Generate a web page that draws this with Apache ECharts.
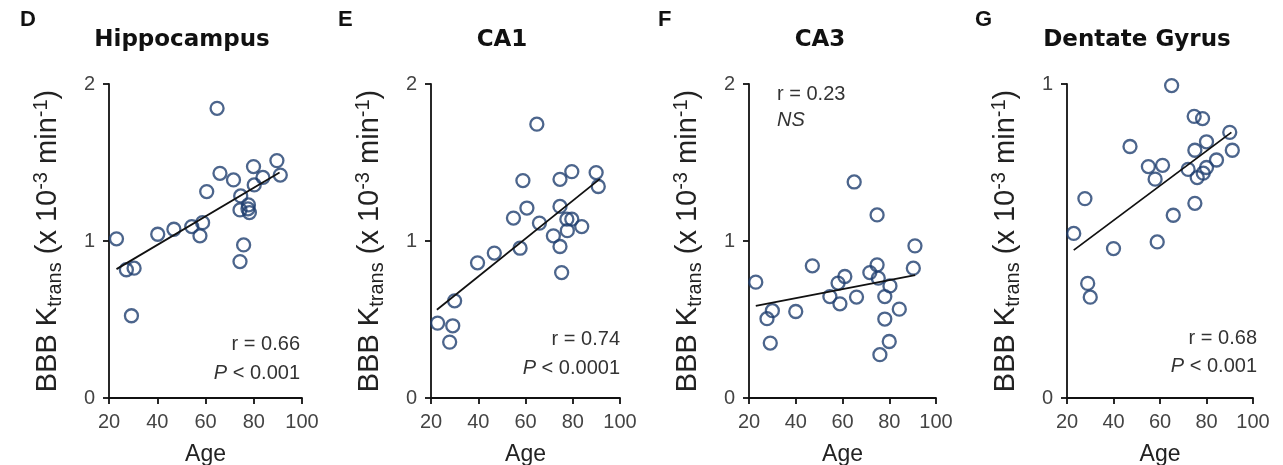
<!DOCTYPE html>
<html>
<head>
<meta charset="utf-8">
<script src="https://cdn.jsdelivr.net/npm/echarts@6/dist/echarts.min.js"></script>
<style>
html,body{margin:0;padding:0;background:#fff;}
#c{width:1283px;height:465px;}
</style>
</head>
<body>
<div id="c"></div>
<script>
// ---- data ----
const panelLetters = ['D', 'E', 'F', 'G'];
const panelTitles = ['Hippocampus', 'CA1', 'CA3', 'Dentate Gyrus'];
const xTicks = [20, 40, 60, 80, 100];
const yMaxes = [2, 2, 2, 1];
const rTexts = ['r = 0.66', 'r = 0.74', 'r = 0.23', 'r = 0.68'];
const pTexts = ['P < 0.001', 'P < 0.0001', 'NS', 'P < 0.001'];

const hippoAge = [23.1, 27.2, 30.4, 29.3, 40.2, 46.9, 54.3, 57.7, 58.8, 60.5, 64.8, 66.0, 71.6, 74.6, 74.3, 74.3, 75.8, 77.8, 78.2, 77.6, 79.9, 80.2, 83.8, 89.6, 91.0];
const hippoK   = [1.014, 0.817, 0.827, 0.524, 1.043, 1.075, 1.092, 1.033, 1.117, 1.315, 1.845, 1.431, 1.389, 1.287, 1.198, 0.869, 0.975, 1.230, 1.181, 1.205, 1.474, 1.357, 1.405, 1.512, 1.420];
const hippoFitAge = [23.1, 90.7];
const hippoFitK   = [0.821, 1.436];

const ca1Age = [22.8, 27.9, 29.2, 30.0, 39.7, 46.8, 54.9, 57.7, 58.9, 60.6, 64.8, 65.9, 71.8, 74.6, 74.6, 74.6, 75.3, 77.7, 77.5, 79.6, 79.6, 83.8, 89.9, 90.8];
const ca1K   = [0.477, 0.356, 0.460, 0.619, 0.861, 0.923, 1.146, 0.954, 1.385, 1.210, 1.744, 1.114, 1.033, 1.220, 1.393, 0.965, 0.799, 1.066, 1.139, 1.139, 1.442, 1.092, 1.436, 1.347];
const ca1FitAge = [22.5, 91.5];
const ca1FitK   = [0.562, 1.396];

const ca3Age = [22.9, 27.7, 30.0, 29.1, 40.0, 47.1, 54.6, 58.1, 58.9, 61.0, 65.0, 66.0, 71.7, 74.8, 74.8, 75.3, 76.0, 78.1, 78.1, 80.3, 80.0, 84.3, 90.3, 91.0];
const ca3K   = [0.738, 0.505, 0.556, 0.350, 0.551, 0.842, 0.646, 0.732, 0.600, 0.774, 1.376, 0.643, 0.799, 0.848, 1.166, 0.763, 0.276, 0.646, 0.503, 0.714, 0.360, 0.566, 0.827, 0.969];
const ca3FitAge = [22.9, 91.1];
const ca3FitK   = [0.587, 0.783];

const dgAge = [22.9, 27.7, 28.9, 30.0, 40.0, 47.1, 55.0, 57.9, 58.8, 61.1, 65.0, 65.7, 72.1, 74.7, 75.0, 75.0, 76.0, 78.3, 78.6, 80.0, 80.0, 84.3, 90.0, 91.1];
const dgK   = [0.524, 0.635, 0.365, 0.321, 0.476, 0.801, 0.737, 0.697, 0.497, 0.741, 0.995, 0.582, 0.728, 0.897, 0.789, 0.620, 0.702, 0.890, 0.716, 0.734, 0.816, 0.758, 0.846, 0.789];
const dgFitAge = [22.9, 90.7];
const dgFitK   = [0.471, 0.846];

// ---- layout ----
const gridBoxes = [
  {left: 109, top: 84, width: 193, height: 314},
  {left: 431, top: 84, width: 189, height: 314},
  {left: 749, top: 84, width: 187, height: 314},
  {left: 1067, top: 84, width: 186, height: 314}
];
const letterPos = [[20, 20], [338, 20], [658, 20], [975, 20]];
const titlePos = [[182, 40], [502, 40], [820, 40], [1137, 40]];
const notePos = [
  {x: 300, y1: 344, y2: 373, align: 'right'},
  {x: 620, y1: 339, y2: 368, align: 'right'},
  {x: 777, y1: 94, y2: 120, align: 'left'},
  {x: 1257, y1: 338, y2: 366, align: 'right'}
];

const FONT = '"Liberation Sans", Arial, Helvetica, sans-serif';
const pointColor = '#1f3f6f';
const tickColor = '#444';

const ages = [hippoAge, ca1Age, ca3Age, dgAge];
const ks = [hippoK, ca1K, ca3K, dgK];
const fitAges = [hippoFitAge, ca1FitAge, ca3FitAge, dgFitAge];
const fitKs = [hippoFitK, ca1FitK, ca3FitK, dgFitK];

const yName = '{n|BBB K}{sub|trans}{n| (x 10}{sup|-3}{n| min}{sup|-1}{n|)}';

const grid = [], xAxis = [], yAxis = [], series = [], graphic = [];
for (let i = 0; i < 4; i++) {
  grid.push(Object.assign({containLabel: false, outerBoundsMode: 'none'}, gridBoxes[i]));
  xAxis.push({
    gridIndex: i, type: 'value', min: xTicks[0], max: xTicks[xTicks.length - 1], interval: 20,
    name: 'Age', nameLocation: 'middle', nameGap: 45,
    nameTextStyle: {fontFamily: FONT, fontSize: 23, color: '#222'},
    axisLine: {show: true, onZero: false, lineStyle: {color: '#111', width: 1.8}},
    axisTick: {show: true, length: 6, lineStyle: {color: '#111', width: 1.8}},
    axisLabel: {fontFamily: FONT, fontSize: 20, color: tickColor, margin: 14},
    splitLine: {show: false}
  });
  yAxis.push({
    gridIndex: i, type: 'value', min: 0, max: yMaxes[i], interval: 1,
    name: yName, nameLocation: 'middle', nameRotate: 90, nameGap: 44,
    nameTextStyle: {
      rich: {
        n: {fontFamily: FONT, fontSize: 29, color: '#222', lineHeight: 34, verticalAlign: 'middle'},
        sub: {fontFamily: FONT, fontSize: 20, color: '#222', lineHeight: 19, verticalAlign: 'bottom'},
        sup: {fontFamily: FONT, fontSize: 20, color: '#222', lineHeight: 19, verticalAlign: 'top'}
      }
    },
    axisLine: {show: true, onZero: false, lineStyle: {color: '#111', width: 1.8}},
    axisTick: {show: true, length: 6, lineStyle: {color: '#111', width: 1.8}},
    axisLabel: {fontFamily: FONT, fontSize: 20, color: tickColor, margin: 14},
    splitLine: {show: false}
  });
  series.push({
    type: 'scatter', xAxisIndex: i, yAxisIndex: i,
    data: ages[i].map((a, j) => [a, ks[i][j]]),
    symbol: 'circle', symbolSize: 13,
    itemStyle: {color: 'rgba(255,255,255,0)', borderColor: pointColor, borderWidth: 2.3},
    emphasis: {disabled: true}, z: 2
  });
  series.push({
    type: 'line', xAxisIndex: i, yAxisIndex: i,
    data: fitAges[i].map((a, j) => [a, fitKs[i][j]]),
    symbol: 'none', lineStyle: {color: '#111', width: 1.8}, z: 3, silent: true
  });
  graphic.push({
    type: 'text', x: letterPos[i][0], y: letterPos[i][1],
    style: {text: panelLetters[i], font: 'bold 22px ' + FONT, fill: '#111', align: 'left', verticalAlign: 'middle'}
  });
  graphic.push({
    type: 'text', x: titlePos[i][0], y: titlePos[i][1],
    style: {text: panelTitles[i], font: 'bold 23px "DejaVu Sans", ' + FONT, fill: '#111', align: 'center', verticalAlign: 'middle'}
  });
  const np = notePos[i];
  graphic.push({
    type: 'text', x: np.x, y: np.y1,
    style: {text: rTexts[i], font: '20px ' + FONT, fill: '#333', align: np.align, verticalAlign: 'middle'}
  });
  const pt = pTexts[i];
  const rich = {
    i: {fontFamily: FONT, fontSize: 20, fontStyle: 'italic', fill: '#333', color: '#333'},
    n: {fontFamily: FONT, fontSize: 20, fill: '#333', color: '#333'}
  };
  const richText = pt.startsWith('P') ? '{i|P}{n|' + pt.slice(1) + '}' : '{i|' + pt + '}';
  graphic.push({
    type: 'text', x: np.x, y: np.y2,
    style: {text: richText, rich: rich, font: '20px ' + FONT, fill: '#333', align: np.align, verticalAlign: 'middle'}
  });
}

const chart = echarts.init(document.getElementById('c'), null, {renderer: 'canvas'});
chart.setOption({
  animation: false,
  backgroundColor: '#fff',
  grid, xAxis, yAxis, series, graphic
});
</script>
</body>
</html>
